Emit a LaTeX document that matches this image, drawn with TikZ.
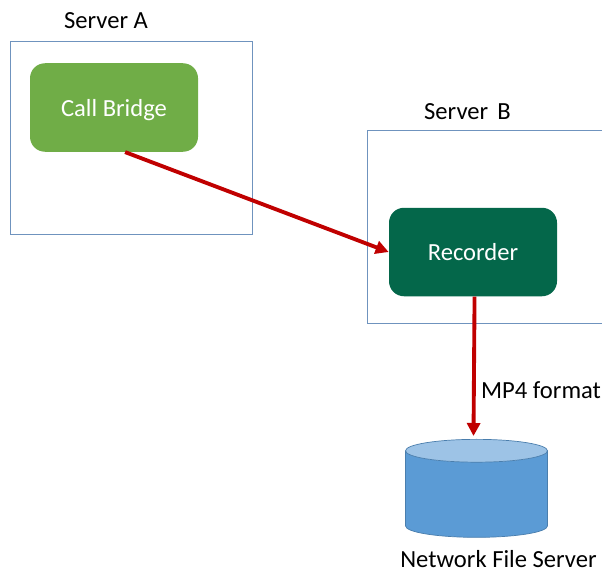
\documentclass[tikz,border=0pt]{standalone}
\usepackage{fontspec}
\setmainfont{Carlito}
\usetikzlibrary{arrows.meta, shapes.geometric, positioning}

\definecolor{framecolor}{HTML}{6F93BE}
\definecolor{bridgecolor}{HTML}{70AD47}
\definecolor{recordercolor}{HTML}{04674A}
\definecolor{flowcolor}{HTML}{C00000}
\definecolor{drumcolor}{HTML}{5B9BD5}
\definecolor{drumtopcolor}{HTML}{9DC3E6}
\definecolor{drumedgecolor}{HTML}{4A7EAD}

\tikzset{
    serverframe/.style={draw=framecolor, line width=0.5pt},
    service/.style={rectangle, rounded corners=0.3cm, minimum width=3.36cm, minimum height=1.77cm, text=white, text depth=0pt, font=\fontsize{14}{17}\selectfont},
    caption/.style={font=\fontsize{14}{17}\selectfont},
    flow/.style={-{Triangle[length=0.26cm, width=0.26cm]}, draw=flowcolor, line width=2.2pt},
}

\begin{document}
\begin{tikzpicture}
                        \useasboundingbox (0, 0) rectangle (12.04, 11.42);

                        \node[serverframe, minimum width=4.83cm, minimum height=3.86cm] (serverA) at (2.625, 8.67) {};
                        \coordinate (serverBtop) at (12.04, 8.82);
                        \coordinate (serverBbottom) at (12.04, 4.96);
                        \draw[serverframe] (serverBtop) -| (7.35, 4.96) -- (serverBbottom);

                        \node[service, fill=bridgecolor] (bridge) at (2.28, 9.27) {Call Bridge};
                        \node[service, fill=recordercolor] (recorder) at (9.46, 6.38) {Recorder};
                        \node[cylinder, shape border rotate=90, aspect=1.95, minimum width=2.84cm, minimum height=1.96cm, draw=drumedgecolor, line width=0.4pt, cylinder uses custom fill, cylinder body fill=drumcolor, cylinder end fill=drumtopcolor] (drum) at (9.53, 1.49) {};

                        \node[caption] (labelA) at (2.12, 11) {Server A};
                        \node[caption] (labelB) at (9.35, 9.18) {Server\hspace{0.15em} B};
                        \node[caption] (labelDrum) at (9.97, 0.24) {Network File Server};

                        \draw
                        (recorder.-88) edge[flow, shorten >=0.06cm] node[right, caption, pos=0.66, xshift=-0.01cm] {MP4 format} (drum.93)
                        (bridge.-76) edge[flow] (recorder.west);
                    \end{tikzpicture}
\end{document}
